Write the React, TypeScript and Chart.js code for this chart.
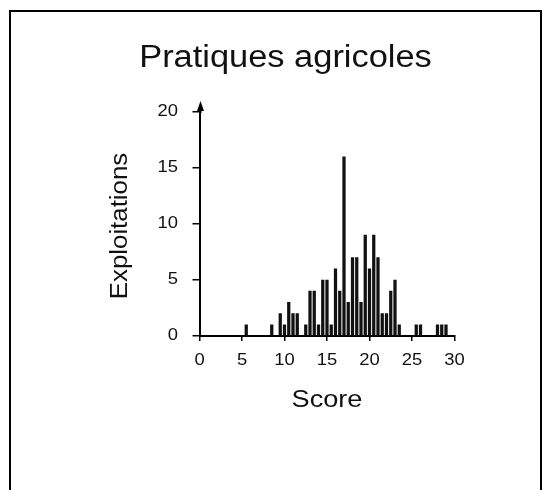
import React, { useEffect, useRef } from "react";
import { Chart, registerables } from "chart.js";

Chart.register(...registerables);

const title = "Pratiques agricoles";
const xTitle = "Score";
const yTitle = "Exploitations";
const scores = [5.5, 8.5, 9.5, 10, 10.5, 11, 11.5, 12.5, 13, 13.5, 14, 14.5, 15, 15.5, 16, 16.5, 17, 17.5, 18, 18.5, 19, 19.5, 20, 20.5, 21, 21.5, 22, 22.5, 23, 23.5, 25.5, 26, 28, 28.5, 29];
const counts = [1, 1, 2, 1, 3, 2, 2, 1, 4, 4, 1, 5, 5, 1, 6, 4, 16, 3, 7, 7, 3, 9, 6, 9, 7, 2, 2, 4, 5, 1, 1, 1, 1, 1, 1];
const xTicks = [0, 5, 10, 15, 20, 25, 30];
const yTicks = [0, 5, 10, 15, 20];

const FONT = '"Liberation Sans", Arial, sans-serif';
const INK = "#111";

function drawText(
  ctx: CanvasRenderingContext2D,
  text: string,
  x: number,
  y: number,
  size: number,
  align: CanvasTextAlign,
  baseline: CanvasTextBaseline,
  sx: number,
  rotate = false
) {
  ctx.save();
  ctx.translate(x, y);
  if (rotate) ctx.rotate(-Math.PI / 2);
  ctx.scale(sx, 1);
  ctx.font = `${size}px ${FONT}`;
  ctx.fillStyle = INK;
  ctx.textAlign = align;
  ctx.textBaseline = baseline;
  ctx.fillText(text, 0, 0);
  ctx.restore();
}

const decor = {
  id: "decor",
  afterDraw(chart: any) {
    const ctx: CanvasRenderingContext2D = chart.ctx;
    const xs = chart.scales.x;
    const ys = chart.scales.y;
    const area = chart.chartArea;
    // outer frame
    ctx.save();
    ctx.strokeStyle = "#000";
    ctx.lineWidth = 2;
    ctx.strokeRect(10, 11, 531, 500);
    // y-axis extension + arrow
    const ax = Math.round(xs.getPixelForValue(0)) + 0.5;
    ctx.strokeStyle = "#000";
    ctx.lineWidth = 2;
    ctx.beginPath();
    ctx.moveTo(ax, area.top + 1);
    ctx.lineTo(ax, area.top - 6);
    ctx.stroke();
    ctx.fillStyle = "#000";
    ctx.beginPath();
    ctx.moveTo(ax, area.top - 11);
    ctx.lineTo(ax - 3.5, area.top - 1);
    ctx.lineTo(ax + 3.5, area.top - 1);
    ctx.closePath();
    ctx.fill();
    ctx.restore();

    // tick labels
    yTicks.forEach((v) => {
      drawText(ctx, String(v), 178, ys.getPixelForValue(v), 16, "right", "middle", 1.15);
    });
    xTicks.forEach((v) => {
      drawText(ctx, String(v), xs.getPixelForValue(v), 365, 16, "center", "alphabetic", 1.15);
    });
    // titles
    drawText(ctx, title, 285.5, 67, 31, "center", "alphabetic", 1.11);
    drawText(ctx, xTitle, (area.left + area.right) / 2, 406.5, 24, "center", "alphabetic", 1.13);
    drawText(ctx, yTitle, 127, 226, 23.5, "center", "alphabetic", 1.1, true);
  },
};

export default function App() {
  const ref = useRef<HTMLCanvasElement | null>(null);
  useEffect(() => {
    if (!ref.current) return;
    const chart = new Chart(ref.current, {
      type: "bar",
      data: {
        datasets: [
          {
            data: scores.map((s, i) => ({ x: s, y: counts[i] })),
            backgroundColor: INK,
            borderWidth: 0,
            barThickness: 2.6,
          },
        ],
      },
      options: {
        animation: false,
        responsive: false,
        maintainAspectRatio: false,
        events: [],
        layout: { padding: { left: 189.5, right: 101.5, top: 112, bottom: 144 } },
        plugins: { legend: { display: false }, tooltip: { enabled: false }, title: { display: false } },
        scales: {
          x: {
            type: "linear",
            min: 0,
            max: 30,
            offset: false,
            ticks: { display: false, stepSize: 5 },
            grid: { display: true, drawOnChartArea: false, drawTicks: true, tickLength: 5, color: "#000", lineWidth: 1.5, offset: false },
            border: { display: true, color: "#000", width: 2 },
            afterFit: (s: any) => {
              s.height = 10;
            },
          },
          y: {
            type: "linear",
            min: 0,
            max: 20,
            ticks: { display: false, stepSize: 5 },
            grid: { display: true, drawOnChartArea: false, drawTicks: true, tickLength: 7, color: "#000", lineWidth: 1.5 },
            border: { display: true, color: "#000", width: 2 },
            afterFit: (s: any) => {
              s.width = 10;
            },
          },
        },
      },
      plugins: [decor],
    });
    return () => chart.destroy();
  }, []);
  return (
    <div style={{ position: "fixed", left: 0, top: 0, width: 556, height: 490, background: "#fff" }}>
      <canvas ref={ref} width={556} height={490} style={{ display: "block", width: 556, height: 490 }} />
    </div>
  );
}
